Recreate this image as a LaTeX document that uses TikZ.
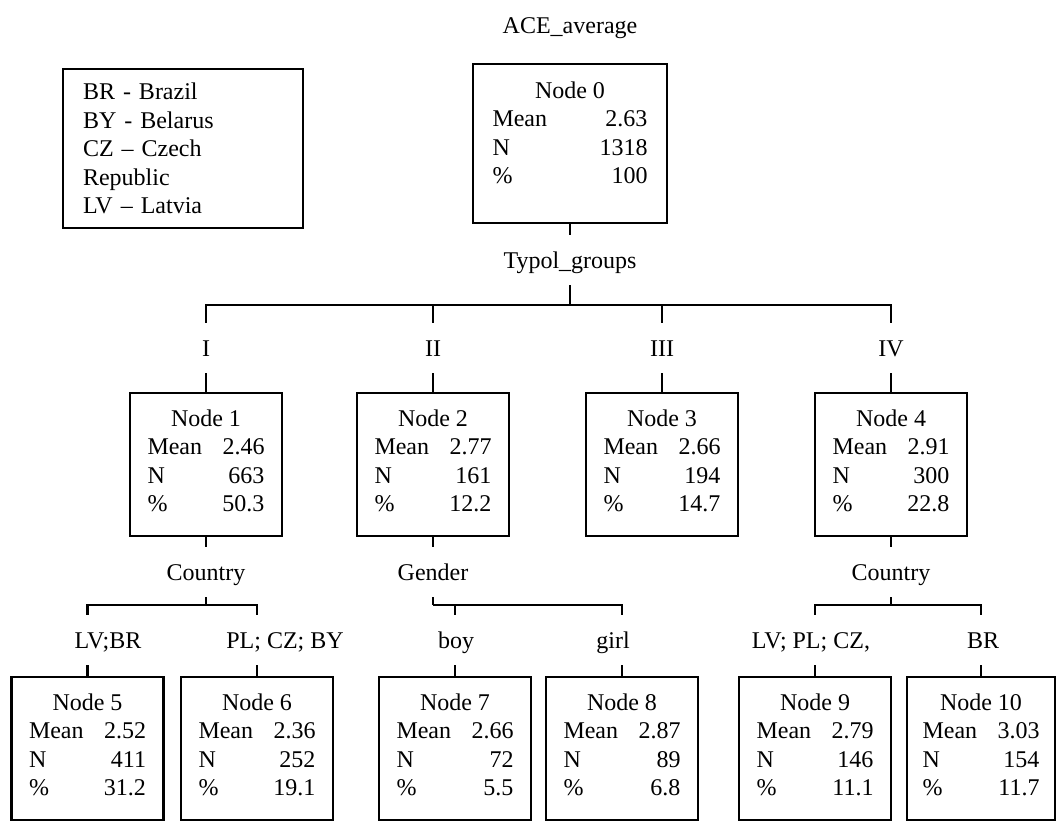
\documentclass[tikz,border=0pt]{standalone}
\usepackage{fontspec}
\setmainfont{Liberation Serif}
\newcommand{\stats}[5][87.75pt]{%
	\begin{tabular*}{#1}[t]{@{}l@{\extracolsep{\fill}}r@{}}
		\multicolumn{2}{c}{#2}\\
		Mean & #3\\
		N & #4\\
		\% & #5
	\end{tabular*}}
\tikzset{
	box/.style={draw, line width=1.8pt, inner sep=0pt, anchor=north, minimum width=114pt, text height=24.75pt, text depth=82.5pt},
	lab/.style={inner sep=0pt, anchor=base, text height=24pt, text depth=12pt},
}

\begin{document}
\begin{tikzpicture}[x=0.75pt, y=-0.75pt, line width=1.8pt, font=\fontsize{18pt}{21.4pt}\selectfont]
	\useasboundingbox (0,0) rectangle (1057,821);
	\node[draw, minimum width=180pt, minimum height=119.25pt, text width=150pt, align=left, inner sep=0pt] (key) at (183,148.5) {BR - Brazil\\ BY - Belarus\\ CZ -- Czech\\ Republic\\ LV -- Latvia};
	\node[lab] (ace) at (570,33) {ACE\_average};
	\node[box, minimum width=145.5pt, text height=25.5pt, text depth=93.75pt] (n0) at (570,63) {\stats[116.25pt]{Node 0}{2.63}{1318}{100}};
	\node[lab] (typol) at (570,268) {Typol\_groups};
	\node[lab] (lI) at (206,356) {I};
	\node[lab] (lII) at (433,356) {II};
	\node[lab] (lIII) at (662,356) {III};
	\node[lab] (lIV) at (891,356) {IV};
	\node[box] (n1) at (206,392) {\stats{Node 1}{2.46}{663}{50.3}};
	\node[box] (n2) at (433,392) {\stats{Node 2}{2.77}{161}{12.2}};
	\node[box] (n3) at (662,392) {\stats{Node 3}{2.66}{194}{14.7}};
	\node[box] (n4) at (891,392) {\stats{Node 4}{2.91}{300}{22.8}};
	\node[lab] (cty1) at (206,580) {Country};
	\node[lab] (gender) at (433,580) {Gender};
	\node[lab] (cty4) at (891,580) {Country};
	\node[lab] (lvbr) at (108,648) {LV;BR};
	\node[lab] (plcz) at (285,648) {PL; CZ; BY};
	\node[lab] (boy) at (456,648) {boy};
	\node[lab] (girl) at (613,648) {girl};
	\node[lab] (lvpl) at (811,648) {LV; PL; CZ,};
	\node[lab] (br) at (983,648) {BR};
	\node[box] (n5) at (87.5,676) {\stats{Node 5}{2.52}{411}{31.2}};
	\node[box] (n6) at (257,676) {\stats{Node 6}{2.36}{252}{19.1}};
	\node[box] (n7) at (455,676) {\stats{Node 7}{2.66}{72}{5.5}};
	\node[box] (n8) at (622,676) {\stats{Node 8}{2.87}{89}{6.8}};
	\node[box] (n9) at (815,676) {\stats{Node 9}{2.79}{146}{11.1}};
	\node[box, minimum width=111pt] (n10) at (981,676) {\stats{Node 10}{3.03}{154}{11.7}};
	\coordinate (tbar) at (570,305);
	\coordinate (cbar1) at (206,605);
	\coordinate (gbar) at (433,605);
	\coordinate (cbar4) at (891,605);
	\draw (n0.south) -- (typol.north);
	\draw (typol.south) -- (tbar);
	\foreach \n/\l in {n1/lI, n2/lII, n3/lIII, n4/lIV}
		\draw (tbar) -| (\n |- \l.north) (\l.south) -- (\n.north);
	\draw (n1.south) -- (cty1.north) (cty1.south) -- (cbar1);
	\draw (n2.south) -- (gender.north) (gender.south) -- (gbar);
	\draw (n4.south) -- (cty4.north) (cty4.south) -- (cbar4);
	\foreach \p/\n/\l in {cbar1/n5/lvbr, cbar1/n6/plcz, gbar/n7/boy, gbar/n8/girl, cbar4/n9/lvpl, cbar4/n10/br}
		\draw (\p) -| (\n |- \l.north) (\n |- \l.south) -- (\n.north);
\end{tikzpicture}
\end{document}
